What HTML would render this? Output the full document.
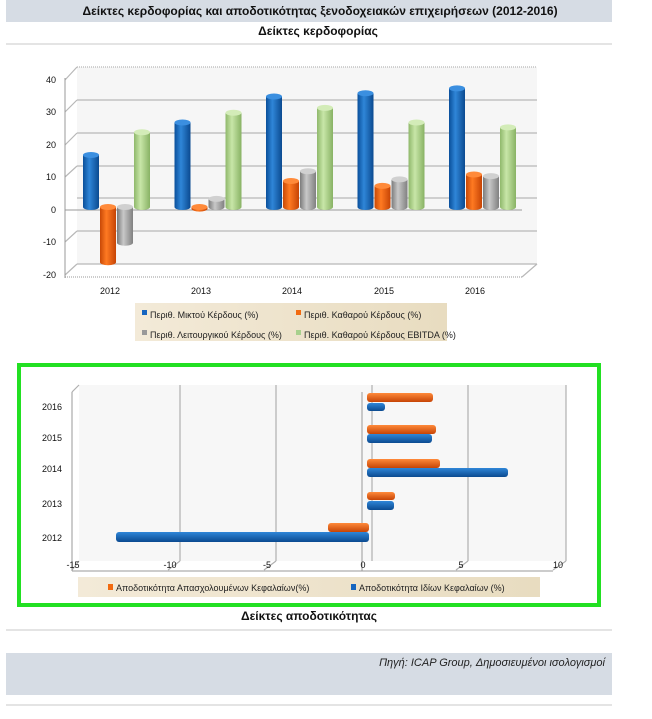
<!DOCTYPE html>
<html><head><meta charset="utf-8">
<style>
body{margin:0;background:#fff;width:652px;height:714px;overflow:hidden;font-family:"Liberation Sans","DejaVu Sans",sans-serif;}
</style></head><body>
<svg width="652" height="714" xmlns="http://www.w3.org/2000/svg" font-family="Liberation Sans, DejaVu Sans, sans-serif">
<defs>
<linearGradient id="gb" x1="0" x2="1"><stop offset="0" stop-color="#0a4f9a"/><stop offset=".4" stop-color="#2f86d8"/><stop offset="1" stop-color="#0b4a90"/></linearGradient>
<linearGradient id="go" x1="0" x2="1"><stop offset="0" stop-color="#c84806"/><stop offset=".4" stop-color="#ff7a22"/><stop offset="1" stop-color="#c64405"/></linearGradient>
<linearGradient id="gg" x1="0" x2="1"><stop offset="0" stop-color="#7b7b7b"/><stop offset=".4" stop-color="#c8c8c8"/><stop offset="1" stop-color="#808080"/></linearGradient>
<linearGradient id="gl" x1="0" x2="1"><stop offset="0" stop-color="#8fb86b"/><stop offset=".4" stop-color="#c8e6a8"/><stop offset="1" stop-color="#88b264"/></linearGradient>
<linearGradient id="hb" x1="0" y1="0" x2="0" y2="1"><stop offset="0" stop-color="#2f86d8"/><stop offset="1" stop-color="#0b4a90"/></linearGradient>
<linearGradient id="ho" x1="0" y1="0" x2="0" y2="1"><stop offset="0" stop-color="#ff8a3a"/><stop offset="1" stop-color="#c64405"/></linearGradient>
<linearGradient id="leg" x1="0" x2="1"><stop offset="0" stop-color="#f3ead8"/><stop offset="1" stop-color="#e8dcc0"/></linearGradient>
</defs>
<rect x="6" y="0" width="606" height="22" fill="#d6dce4"/>
<text x="320" y="15" font-size="12" font-weight="bold" text-anchor="middle" fill="#111">Δείκτες κερδοφορίας και αποδοτικότητας ξενοδοχειακών επιχειρήσεων (2012-2016)</text>
<text x="318" y="35" font-size="12" font-weight="bold" text-anchor="middle" fill="#111">Δείκτες κερδοφορίας</text>
<line x1="6" y1="44" x2="612" y2="44" stroke="#c8c8c8"/>
<rect x="77" y="67" width="460" height="197" fill="#f6f6f6"/>
<g stroke="#b8b8b8" stroke-width="1.2">
<line x1="77" y1="67" x2="537" y2="67" stroke-dasharray="1 1"/>
<line x1="77" y1="100" x2="537" y2="100"/><line x1="77" y1="133" x2="537" y2="133"/>
<line x1="77" y1="166" x2="537" y2="166"/><line x1="77" y1="198" x2="537" y2="198"/>
<line x1="77" y1="231" x2="537" y2="231"/><line x1="77" y1="264" x2="537" y2="264"/>
<line x1="65" y1="80" x2="77" y2="67"/><line x1="65" y1="112" x2="77" y2="100"/><line x1="65" y1="145" x2="77" y2="133"/><line x1="65" y1="177" x2="77" y2="166"/><line x1="65" y1="242" x2="77" y2="231"/><line x1="65" y1="275" x2="77" y2="264"/><line x1="522" y1="277" x2="537" y2="264"/>
</g>
<line x1="65" y1="78" x2="65" y2="278" stroke="#999"/>
<line x1="65" y1="277" x2="522" y2="277" stroke="#999" stroke-dasharray="1 1"/>
<line x1="65" y1="210" x2="522" y2="210" stroke="#999"/>
<g font-size="9" fill="#111" text-anchor="end">
<text x="56" y="83">40</text><text x="56" y="115">30</text><text x="56" y="148">20</text><text x="56" y="180">10</text><text x="56" y="213">0</text><text x="56" y="245">-10</text><text x="56" y="278">-20</text></g>
<g id="cyl"></g>
<g font-size="9" fill="#111" text-anchor="middle">
<text x="110" y="294">2012</text><text x="201" y="294">2013</text><text x="292" y="294">2014</text><text x="384" y="294">2015</text><text x="475" y="294">2016</text></g>
<rect x="135" y="303" width="312" height="38" fill="url(#leg)"/>
<g font-size="9" fill="#222">
<rect x="142" y="310" width="5" height="5" fill="#1565c0"/><text x="150" y="318">Περιθ. Μικτού Κέρδους (%)</text>
<rect x="296" y="310" width="5" height="5" fill="#f26a10"/><text x="304" y="318">Περιθ. Καθαρού Κέρδους (%)</text>
<rect x="142" y="330" width="5" height="5" fill="#999"/><text x="150" y="338">Περιθ. Λειτουργικού Κέρδους (%)</text>
<rect x="296" y="330" width="5" height="5" fill="#a8d08d"/><text x="304" y="338">Περιθ. Καθαρού Κέρδους EBITDA (%)</text></g>
<rect x="19" y="365" width="580" height="240" fill="none" stroke="#22e022" stroke-width="4"/>
<rect x="79" y="385" width="487" height="176" fill="#f7f7f7"/>
<g stroke="#b0b0b0" stroke-width="1.2">
<line x1="180" y1="385" x2="180" y2="561"/><line x1="276" y1="385" x2="276" y2="561"/><line x1="372" y1="385" x2="372" y2="561"/><line x1="468" y1="385" x2="468" y2="561"/><line x1="566" y1="385" x2="566" y2="561"/>
<line x1="72" y1="392" x2="79" y2="385"/><line x1="72" y1="570" x2="79" y2="561"/><line x1="168" y1="570" x2="180" y2="561"/><line x1="264" y1="570" x2="276" y2="561"/><line x1="456" y1="570" x2="468" y2="561"/><line x1="553" y1="570" x2="566" y2="561"/>
</g>
<line x1="72" y1="392" x2="72" y2="571" stroke="#999"/>
<line x1="72" y1="571" x2="553" y2="571" stroke="#999"/>
<line x1="362" y1="392" x2="362" y2="571" stroke="#999"/>
<g font-size="9" fill="#111" text-anchor="middle">
<text x="73" y="568">-15</text><text x="170" y="568">-10</text><text x="267" y="568">-5</text><text x="363" y="568">0</text><text x="461" y="568">5</text><text x="558" y="568">10</text></g>
<g font-size="9" fill="#111">
<text x="42" y="410">2016</text><text x="42" y="441">2015</text><text x="42" y="472">2014</text><text x="42" y="507">2013</text><text x="42" y="541">2012</text></g>
<g>
<rect x="367" y="393" width="66" height="9" rx="3" fill="url(#ho)"/>
<rect x="367" y="403" width="18" height="8" rx="3" fill="url(#hb)"/>
<rect x="367" y="425" width="69" height="9" rx="3" fill="url(#ho)"/>
<rect x="367" y="434" width="65" height="9" rx="3" fill="url(#hb)"/>
<rect x="367" y="459" width="73" height="9" rx="3" fill="url(#ho)"/>
<rect x="367" y="468" width="141" height="9" rx="3" fill="url(#hb)"/>
<rect x="367" y="492" width="28" height="8" rx="3" fill="url(#ho)"/>
<rect x="367" y="501" width="27" height="9" rx="3" fill="url(#hb)"/>
<rect x="328" y="523" width="41" height="9" rx="3" fill="url(#ho)"/>
<rect x="116" y="532" width="253" height="10" rx="3" fill="url(#hb)"/>
</g>
<rect x="78" y="577" width="462" height="20" fill="url(#leg)"/>
<g font-size="9" fill="#222">
<rect x="108" y="584" width="5" height="6" fill="#f26a10"/><text x="116" y="591">Αποδοτικότητα Απασχολουμένων Κεφαλαίων(%)</text>
<rect x="351" y="584" width="5" height="6" fill="#1565c0"/><text x="359" y="591">Αποδοτικότητα Ιδίων Κεφαλαίων (%)</text></g>
<text x="309" y="620" font-size="12" font-weight="bold" text-anchor="middle" fill="#111">Δείκτες αποδοτικότητας</text>
<line x1="6" y1="630" x2="612" y2="630" stroke="#c8c8c8"/>
<rect x="6" y="653" width="606" height="42" fill="#d6dce4"/>
<text x="605" y="666" font-size="11" font-style="italic" text-anchor="end" fill="#222">Πηγή: ICAP Group, Δημοσιευμένοι ισολογισμοί</text>
<line x1="6" y1="705" x2="612" y2="705" stroke="#c8c8c8"/>
</svg>
<script>
const base=207,k=3.25,w=16;
const cols=[["url(#gb)","#3b8fe0"],["url(#go)","#ff8a3a"],["url(#gg)","#d0d0d0"],["url(#gl)","#d3ecb8"]];
const data=[[16,-17,-11,23],[26,-0.5,2.5,29],[34,8,11,30.5],[35,6.5,8.5,26],[36.5,10,9.5,24.5]];
const g=document.getElementById('cyl');let s='';
data.forEach((d,i)=>{d.forEach((v,j)=>{const x=83+i*91.5+j*17;const yt=base-v*k;const top=Math.min(yt,base),bot=Math.max(yt,base);
s+=`<rect x="${x}" y="${top}" width="${w}" height="${bot-top}" fill="${cols[j][0]}"/>`;
s+=`<ellipse cx="${x+w/2}" cy="${bot}" rx="${w/2}" ry="3" fill="${cols[j][0]}"/>`;
s+=`<ellipse cx="${x+w/2}" cy="${top}" rx="${w/2}" ry="3" fill="${cols[j][1]}"/>`;});});
g.innerHTML=s;
</script>
</body></html>
